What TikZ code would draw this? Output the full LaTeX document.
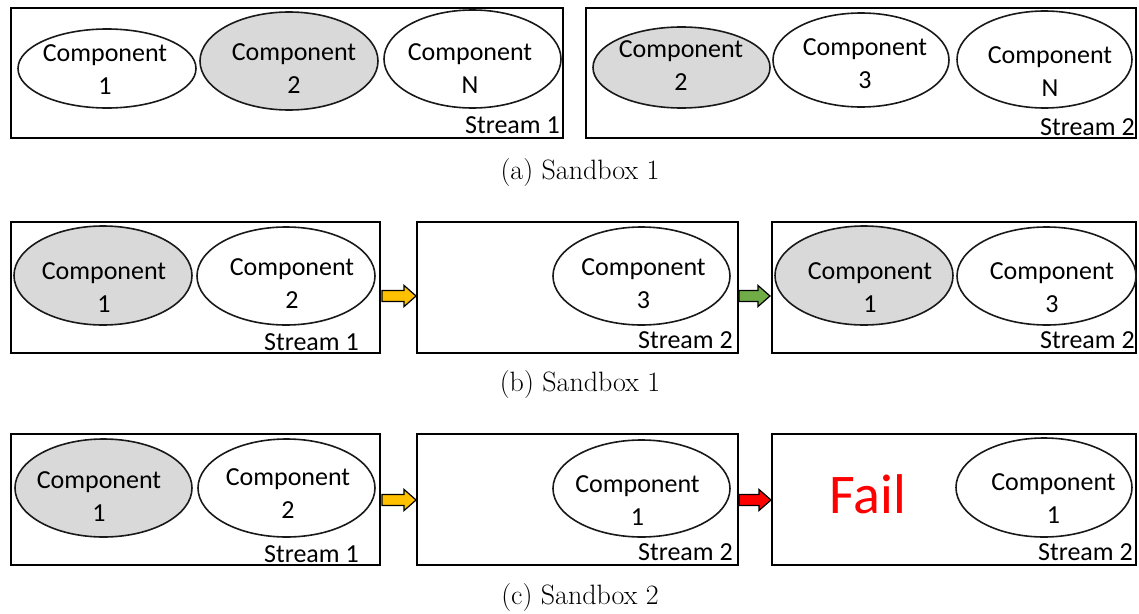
\documentclass[tikz,border=0pt]{standalone}
\usepackage{fontspec}
\newfontfamily\carlito{Carlito}
\usetikzlibrary{shapes.geometric,calc}
\definecolor{compgray}{HTML}{D9D9D9}
\definecolor{arrowyellow}{HTML}{FFC000}
\definecolor{arrowgreen}{HTML}{70AD47}
\definecolor{failred}{HTML}{FF0000}

% horizontal block arrow from #2 to the tip #3, filled with #1
\newcommand{\blockarrow}[3]{%
  \draw[blockarr, fill=#1] let \p1=(#2), \p2=(#3) in
    (\x1,\y1+4.1pt) -- (\x2-9pt,\y1+4.1pt) -- (\x2-9pt,\y1+7.9pt) -- (\x2,\y1)
    -- (\x2-9pt,\y1-7.9pt) -- (\x2-9pt,\y1-4.1pt) -- (\x1,\y1-4.1pt) -- cycle;}

\begin{document}
\begin{tikzpicture}[x=0.75pt,y=-0.75pt,
  sized/.style 2 args={minimum width=#1*0.75pt, minimum height=#2*0.75pt},
  streambox/.style={draw, line width=1.4pt, inner sep=0pt},
  comp/.style={ellipse, draw=black!90, line width=1.2pt, inner sep=0pt, fill=white},
  active/.style={comp, fill=compgray},
  lbl/.style={font=\carlito\fontsize{19.5}{24.75}\selectfont, align=center, inner sep=0pt},
  streamlbl/.style={font=\carlito\fontsize{19.5}{24.75}\selectfont, inner sep=0pt, anchor=base east},
  caption/.style={font=\fontsize{21}{25}\selectfont, inner sep=0pt},
  blockarr/.style={draw=black, line width=0.9pt, line join=miter}]
\useasboundingbox (0,0) rectangle (1139,614);

% ---------- (a) ----------
\node[streambox, sized={552}{130}] (A1) at (287,73) {};
\node[streambox, sized={550}{130}] (A2) at (861,73) {};

\node[comp,   sized={178}{79}] (ea1) at (107,68.5) {};
\node[active, sized={178}{98}] (ea2) at (289,61) {};
\node[comp,   sized={177}{98}] (eaN) at (472.5,59) {};
\node[lbl] (ta1) at (105,69.5) {Component\\1};
\node[lbl] (ta2) at (294,69) {Component\\2};
\node[lbl] (taN) at (470,68.5) {Component\\N};
\node[streamlbl] (sa1) at (560,133) {Stream 1};

\node[active, sized={177}{81}] (eb2) at (681.5,67.5) {};
\node[comp,   sized={176}{94}] (eb3) at (861,60) {};
\node[comp,   sized={175}{97}] (ebN) at (1044.5,59.5) {};
\node[lbl] (tb2) at (681,66) {Component\\2};
\node[lbl] (tb3) at (865,64) {Component\\3};
\node[lbl] (tbN) at (1050,71.5) {Component\\N};
\node[streamlbl] (sa2) at (1135,135) {Stream 2};

\node[caption] (capa) at (580,173) {(a) Sandbox 1};

% ---------- (b) ----------
\node[streambox, sized={369}{131}] (B1) at (195.5,287.5) {};
\node[streambox, sized={321}{131}] (B2) at (577.5,287.5) {};
\node[streambox, sized={364}{131}] (B3) at (954,287.5) {};

\node[active, sized={178}{99}] (ec1) at (103,275.5) {};
\node[comp,   sized={178}{98}] (ec2) at (286,276) {};
\node[lbl] (tc1) at (104,287.5) {Component\\1};
\node[lbl] (tc2) at (292,283.5) {Component\\2};
\node[streamlbl] (sb1) at (359,350) {Stream 1};

\node[comp, sized={177}{98}] (ec3) at (641.5,276) {};
\node[lbl] (tc3) at (643.5,284) {Component\\3};
\node[streamlbl] (sb2) at (733,348) {Stream 2};

\node[active, sized={178}{99}] (ed1) at (864,275.5) {};
\node[comp,   sized={179}{98}] (ed3) at (1046.5,276) {};
\node[lbl] (td1) at (870,287.5) {Component\\1};
\node[lbl] (td3) at (1052,287.5) {Component\\3};
\node[streamlbl] (sb3) at (1135,348) {Stream 2};

\coordinate (yb0) at (382,296);
\coordinate (yb1) at (B2.west |- yb0);
\blockarrow{arrowyellow}{yb0}{yb1}
\coordinate (gb0) at (B2.east |- yb0);
\coordinate (gb1) at (770,296);
\blockarrow{arrowgreen}{gb0}{gb1}

\node[caption] (capb) at (580,385) {(b) Sandbox 1};

% ---------- (c) ----------
\node[streambox, sized={369}{131}] (C1) at (195.5,499.5) {};
\node[streambox, sized={321}{131}] (C2) at (577.5,499.5) {};
\node[streambox, sized={364}{131}] (C3) at (954,499.5) {};

\node[active, sized={177}{98}] (ee1) at (103.5,488) {};
\node[comp,   sized={177}{98}] (ee2) at (286.5,488) {};
\node[lbl] (te1) at (99,497) {Component\\1};
\node[lbl] (te2) at (288,493.5) {Component\\2};
\node[streamlbl] (sc1) at (359,562) {Stream 1};

\node[comp, sized={177}{97}] (ef1) at (641.5,488.5) {};
\node[lbl] (tf1) at (637.5,501) {Component\\1};
\node[streamlbl] (sc2) at (733,560) {Stream 2};

\node[font=\carlito\fontsize{42}{50}\selectfont, text=failred, inner sep=0pt, anchor=base] (fail) at (868,513) {Fail};
\node[comp, sized={176}{99}] (eg1) at (1044,487.5) {};
\node[lbl] (tg1) at (1053.5,498.5) {Component\\1};
\node[streamlbl] (sc3) at (1133,560) {Stream 2};

\coordinate (yc0) at (382,500);
\coordinate (yc1) at (C2.west |- yc0);
\blockarrow{arrowyellow}{yc0}{yc1}
\coordinate (rc0) at (C2.east |- yc0);
\coordinate (rc1) at (771,500);
\blockarrow{failred}{rc0}{rc1}

\node[caption] (capc) at (580,598) {(c) Sandbox 2};
\end{tikzpicture}
\end{document}
